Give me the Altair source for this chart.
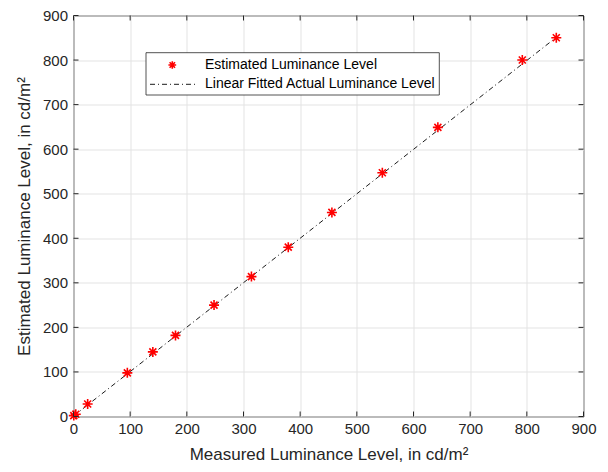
import altair as alt
import pandas as pd

# Data
measured = [0.5, 4, 25, 95, 140, 180, 248, 314, 379, 456, 545, 643, 792, 852]
estimated = [2, 5, 28, 98, 145, 182, 250, 314, 380, 458, 547, 649, 800, 850]
fit_x = [0, 852]
fit_y = [1, 851]
ticks = [0, 100, 200, 300, 400, 500, 600, 700, 800, 900]

legend_labels = ["Estimated Luminance Level", "Linear Fitted Actual Luminance Level"]

W, H = 510, 401
FONT = "Liberation Sans"
DARK = "#262626"

pts = pd.DataFrame({"x": measured, "y": estimated})
fit = pd.DataFrame({"x": fit_x, "y": fit_y})
tk = pd.DataFrame({"t": ticks})

xs = alt.Scale(domain=[0, 900], nice=False)
ys = alt.Scale(domain=[0, 900], nice=False)

asterisk = "M-1,0L1,0M0,-1L0,1M-0.7,-0.7L0.7,0.7M-0.7,0.7L0.7,-0.7"

xaxis = alt.Axis(values=ticks, grid=True, gridColor="#e3e3e3", tickSize=0, domain=False,
                 labelFlush=False, labelOverlap=False,
                 labelFont=FONT, labelFontSize=15, labelColor=DARK, labelPadding=5,
                 title="Measured Luminance Level, in cd/m²", titleFont=FONT, titleFontSize=17,
                 titleFontWeight="normal", titleColor=DARK, titlePadding=10)
yaxis = alt.Axis(values=ticks, grid=True, gridColor="#e3e3e3", tickSize=0, domain=False,
                 labelFlush=False, labelOverlap=False,
                 labelFont=FONT, labelFontSize=15, labelColor=DARK, labelPadding=6,
                 title="Estimated Luminance Level, in cd/m²", titleFont=FONT, titleFontSize=17,
                 titleFontWeight="normal", titleColor=DARK, titlePadding=9)

base_line = alt.Chart(fit).mark_line(color="black", strokeWidth=0.9, strokeDash=[5, 3, 1, 3]).encode(
    x=alt.X("x:Q", scale=xs, axis=xaxis),
    y=alt.Y("y:Q", scale=ys, axis=yaxis),
)

points = alt.Chart(pts).mark_point(shape=asterisk, size=100, color="red", strokeWidth=1.6,
                                   filled=False, opacity=1).encode(
    x=alt.X("x:Q", scale=xs),
    y=alt.Y("y:Q", scale=ys),
)

# inward ticks on all four sides
tick_bottom = alt.Chart(tk).mark_rule(color=DARK, strokeWidth=1).encode(
    x=alt.X("t:Q", scale=xs), y=alt.value(H), y2=alt.value(H - 5))
tick_top = alt.Chart(tk).mark_rule(color=DARK, strokeWidth=1).encode(
    x=alt.X("t:Q", scale=xs), y=alt.value(0), y2=alt.value(5))
tick_left = alt.Chart(tk).mark_rule(color=DARK, strokeWidth=1).encode(
    y=alt.Y("t:Q", scale=ys), x=alt.value(0), x2=alt.value(5))
tick_right = alt.Chart(tk).mark_rule(color=DARK, strokeWidth=1).encode(
    y=alt.Y("t:Q", scale=ys), x=alt.value(W), x2=alt.value(W - 5))

# legend box
one = pd.DataFrame({"a": [0]})
leg_box = alt.Chart(one).mark_rect(fill="white", stroke=DARK, strokeWidth=0.8).encode(
    x=alt.value(72.5), x2=alt.value(365.8), y=alt.value(37.2), y2=alt.value(79.5))
leg_text1 = alt.Chart(one).mark_text(align="left", baseline="middle", font=FONT, fontSize=14,
                                     color="black", text=legend_labels[0]).encode(
    x=alt.value(131.5), y=alt.value(49.5))
leg_text2 = alt.Chart(one).mark_text(align="left", baseline="middle", font=FONT, fontSize=14,
                                     color="black", text=legend_labels[1]).encode(
    x=alt.value(131.5), y=alt.value(68.8))
leg_sym = alt.Chart(one).mark_point(shape=asterisk, size=60, color="red",
                                    strokeWidth=1.6, filled=False, opacity=1).encode(
    x=alt.value(98.8), y=alt.value(49.5))
leg_line = alt.Chart(one).mark_rule(color="black", strokeWidth=0.9,
                                    strokeDash=[5, 3, 1, 3]).encode(
    x=alt.value(76.5), x2=alt.value(123.2), y=alt.value(68.8))

chart = alt.layer(
    base_line, points, tick_bottom, tick_top, tick_left, tick_right,
    leg_box, leg_line, leg_sym, leg_text1, leg_text2
).properties(
    width=W, height=H,
    autosize=alt.AutoSizeParams(type="none"),
    padding={"left": 65.5, "top": 7.5, "right": 16.5, "bottom": 47.5},
    background="white",
).configure_view(stroke=DARK, strokeWidth=1)

chart.save("out.html", embed_options={"renderer": "svg", "actions": False})
